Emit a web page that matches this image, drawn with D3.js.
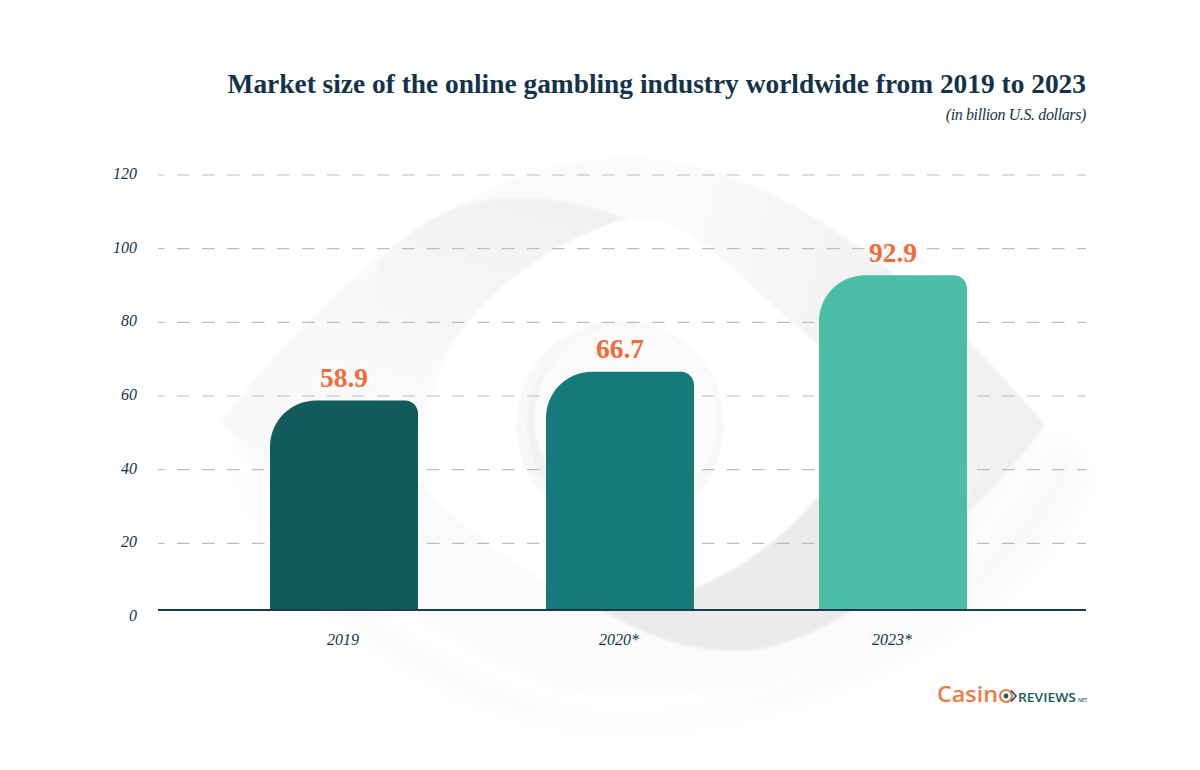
<!DOCTYPE html>
<html><head><meta charset="utf-8">
<script src="https://cdn.jsdelivr.net/npm/d3@7"></script>
<style>html,body{margin:0;padding:0;background:#fff}svg{display:block}</style>
</head><body><svg id="c" width="1200" height="770"></svg>
<script>
const categories = ["2019","2020*","2023*"];
const values = [58.9,66.7,92.9];
const barColors = ["#135b5b","#157a7a","#4bbfa5"];
const yTicks = [0,20,40,60,80,100,120];
const title = "Market size of the online gambling industry worldwide from 2019 to 2023";
const subtitle = "(in billion U.S. dollars)";

const svg = d3.select("#c");
const ink = "#14334a";
const serif = "'Liberation Serif',serif";
const defs = svg.append("defs");
[["b10",10],["b4",4],["b1",0.8]].forEach(([id,s])=>{
  defs.append("filter").attr("id",id).attr("x","-20%").attr("y","-20%").attr("width","140%").attr("height","140%")
    .append("feGaussianBlur").attr("stdDeviation",s);
});
function grad(id,x1,y1,x2,y2,stops){
  const g=defs.append("linearGradient").attr("id",id).attr("gradientUnits","userSpaceOnUse")
    .attr("x1",x1).attr("y1",y1).attr("x2",x2).attr("y2",y2);
  stops.forEach(([o,c])=>g.append("stop").attr("offset",o).attr("stop-color",c));
}
grad("outer",220,250,1045,450,[[0,"#f8f8f8"],[0.5,"#fbfbfb"],[0.72,"#f3f3f3"],[1,"#f0f0f0"]]);
grad("band",520,190,430,480,[[0,"#f1f1f1"],[0.6,"#f8f8f8"],[1,"#fdfdfd"]]);
grad("cres",620,630,960,500,[[0,"#ebebeb"],[0.6,"#ebebeb"],[1,"#f3f3f3"]]);

// decorative eye watermark
const wm = svg.append("g");
wm.append("path").attr("d","M225 450 C290 560 410 680 610 722 C800 715 960 600 1060 430 L1090 480 C1040 600 860 720 620 730 C420 720 280 590 225 450Z").attr("fill","#f9f9f9").attr("filter","url(#b10)");
wm.append("path").attr("d","M230 440 C300 540 420 640 560 690 L760 690 C880 650 980 560 1045 430 L820 500 L450 480Z").attr("fill","#fbfbfb").attr("filter","url(#b4)");
wm.append("path").attr("d","M220 423 C300 320 400 215 540 170 C610 150 680 155 740 180 C860 230 960 325 1045 425 C990 500 900 580 820 625 L600 610 C420 560 300 490 220 423Z").attr("fill","url(#outer)").attr("filter","url(#b1)");
wm.append("path").attr("d","M380 260 C420 220 460 198 520 198 C560 198 600 208 628 219 C550 240 480 300 433 367 L410 480 C375 420 365 330 380 260Z").attr("fill","url(#band)").attr("filter","url(#b1)");
wm.append("path").attr("d","M628 219 C680 212 730 265 767 300 C815 340 860 385 895 425 C870 455 845 475 818 497 C780 545 735 580 695 597 C660 612 640 618 610 615 C520 575 450 520 410 470 C420 420 440 360 467 323 C510 270 570 235 628 219Z").attr("fill","#ffffff").attr("filter","url(#b1)");
wm.append("path").attr("d","M600 610 C640 610 740 590 818 497 C880 460 930 440 985 470 C930 560 830 650 735 651 C680 650 640 632 600 610Z").attr("fill","url(#cres)").attr("filter","url(#b1)");
wm.append("circle").attr("cx",620).attr("cy",425).attr("r",104).attr("fill","#f8f8f8").attr("filter","url(#b1)");
wm.append("circle").attr("cx",620).attr("cy",425).attr("r",93).attr("fill","#f1f1f1").attr("filter","url(#b1)");
wm.append("circle").attr("cx",626).attr("cy",418).attr("r",92).attr("fill","#fbfbfb").attr("filter","url(#b1)");

const barX = d3.scaleOrdinal().domain(categories).range([344,620,893]);
const barW = 148;
const y = d3.scaleLinear().domain([0,120]).range([617,175]);
const baseY = 610;

// grid
svg.append("g").selectAll("line").data(yTicks.slice(1)).join("line")
  .attr("x1",158).attr("x2",1086).attr("y1",d=>y(d)).attr("y2",d=>y(d))
  .attr("stroke","#bdbdbd").attr("stroke-width",1.1).attr("stroke-dasharray","12.5 12.5").attr("stroke-dashoffset",6);

// y labels
svg.append("g").selectAll("text").data(yTicks).join("text")
  .attr("x",137).attr("y",d=>y(d)+4).attr("text-anchor","end")
  .attr("font-family",serif).attr("font-style","italic").attr("font-size",16).attr("fill",ink).text(d=>d);

// bars
function barPath(v,cat){
  const l=barX(cat)-barW/2,r=barX(cat)+barW/2,t=y(v)+0.5,b=baseY,R1=46,R2=13;
  return `M${l} ${b}V${t+R1}A${R1} ${R1} 0 0 1 ${l+R1} ${t}H${r-R2}A${R2} ${R2} 0 0 1 ${r} ${t+R2}V${b}Z`;
}
svg.append("g").selectAll("path").data(values).join("path")
  .attr("d",(d,i)=>barPath(d,categories[i])).attr("fill",(d,i)=>barColors[i]);

svg.append("line").attr("x1",158).attr("x2",1086).attr("y1",baseY).attr("y2",baseY).attr("stroke","#1c3d50").attr("stroke-width",2);

svg.append("g").selectAll("text").data(values).join("text")
  .attr("x",(d,i)=>barX(categories[i])).attr("y",d=>y(d)-13).attr("text-anchor","middle")
  .attr("font-family",serif).attr("font-weight","bold").attr("font-size",27.5).attr("fill","#f26b3a")
  .attr("stroke","#fbfbfb").attr("stroke-width",5).attr("paint-order","stroke").text(d=>d.toFixed(1));

svg.append("g").selectAll("text").data(categories).join("text")
  .attr("x",d=>barX(d)-1).attr("y",645).attr("text-anchor","middle")
  .attr("font-family",serif).attr("font-style","italic").attr("font-size",16).attr("fill",ink).text(d=>d);

svg.append("text").attr("x",1086).attr("y",93).attr("text-anchor","end")
  .attr("font-family",serif).attr("font-weight","bold").attr("font-size",27.4).attr("fill",ink).text(title);
svg.append("text").attr("x",1086).attr("y",120).attr("text-anchor","end")
  .attr("font-family",serif).attr("font-style","italic").attr("font-size",16).attr("letter-spacing",-0.38).attr("fill",ink).text(subtitle);

// logo
const logo = svg.append("g");
logo.append("text").attr("x",937).attr("y",702).attr("font-family","'Open Sans',sans-serif").attr("font-weight",600).attr("font-size",21).attr("textLength",61).attr("lengthAdjust","spacingAndGlyphs").attr("fill","#ee7b45").text("Casin");
logo.append("circle").attr("cx",1006).attr("cy",696).attr("r",6).attr("fill","none").attr("stroke","#ee7b45").attr("stroke-width",2.2);
logo.append("circle").attr("cx",1006).attr("cy",696).attr("r",2.4).attr("fill","#1d5a5e");
logo.append("path").attr("d","M1011 690.5L1016 696L1011 701.5").attr("fill","none").attr("stroke","#1d5a5e").attr("stroke-width",1.8);
logo.append("text").attr("x",1018).attr("y",702).attr("font-family","'Open Sans',sans-serif").attr("font-weight",600).attr("font-size",12.5).attr("textLength",58).attr("lengthAdjust","spacingAndGlyphs").attr("fill","#1d5a5e").text("REVIEWS");
logo.append("text").attr("x",1078).attr("y",702).attr("font-family","'Open Sans',sans-serif").attr("font-weight",600).attr("font-size",5).attr("textLength",9).attr("fill","#1d5a5e").text("NET");
</script></body></html>
